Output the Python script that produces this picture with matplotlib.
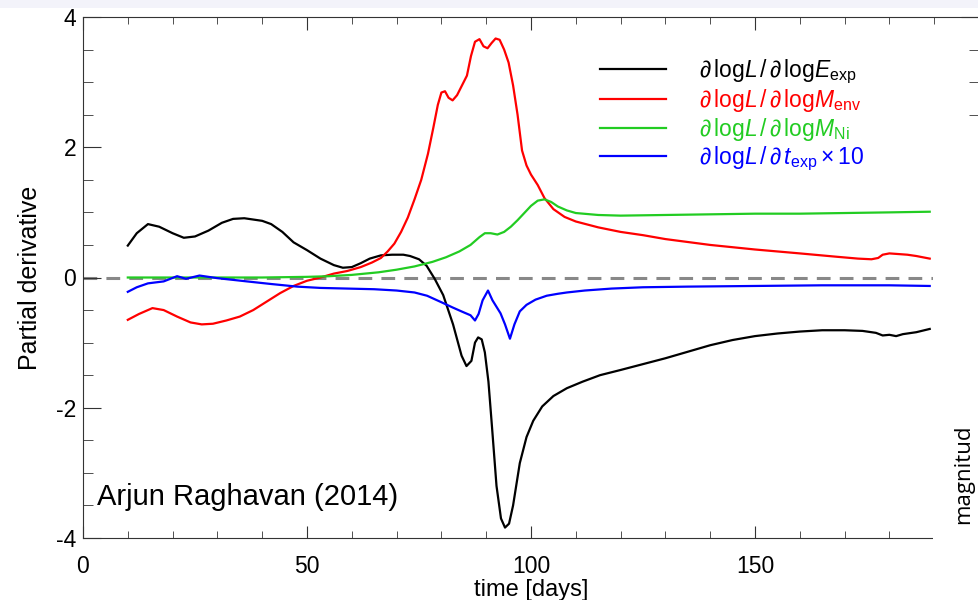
import matplotlib.pyplot as plt
from matplotlib.patches import Rectangle
from matplotlib.ticker import MultipleLocator, FixedLocator

plt.rcParams['font.family'] = ['Liberation Sans', 'DejaVu Sans']
plt.rcParams['mathtext.fontset'] = 'custom'
plt.rcParams['mathtext.rm'] = 'Liberation Sans'
plt.rcParams['mathtext.it'] = 'Liberation Sans:italic'
plt.rcParams['mathtext.fallback'] = 'cm'
plt.rcParams['axes.unicode_minus'] = False

# dlogL/dlogE_exp
t_black = [10, 12, 14.5, 17, 20, 22.5, 25, 28, 31, 33.5, 36, 38, 40, 42, 44.5, 47, 50, 53,
           56, 58, 60, 62, 64, 66.5, 69, 71.5, 73, 75, 76.7, 78.5, 80.4, 82.6, 84.5, 85.6,
           86.7, 87.5, 88.2, 89, 89.7, 90.5, 91.3, 92.3, 93.3, 94.2, 95.1, 96, 97.5, 99,
           100.5, 102.5, 105, 108, 111.5, 115.4, 120, 125, 130, 135, 140, 145, 150, 155,
           160, 165, 170, 174, 177, 178.5, 180, 181.5, 183, 186, 189]
y_black = [0.49, 0.68, 0.82, 0.78, 0.68, 0.61, 0.63, 0.72, 0.84, 0.9, 0.91, 0.89, 0.87, 0.82,
           0.7, 0.54, 0.42, 0.29, 0.19, 0.15, 0.16, 0.22, 0.29, 0.34, 0.35, 0.35, 0.33, 0.28,
           0.18, -0.02, -0.27, -0.72, -1.2, -1.36, -1.28, -1.0, -0.92, -0.95, -1.15, -1.6,
           -2.3, -3.2, -3.7, -3.84, -3.78, -3.5, -2.85, -2.45, -2.2, -1.98, -1.82, -1.7,
           -1.6, -1.5, -1.42, -1.33, -1.24, -1.14, -1.04, -0.96, -0.9, -0.86, -0.83, -0.81,
           -0.81, -0.82, -0.85, -0.89, -0.88, -0.9, -0.87, -0.84, -0.79]

# dlogL/dlogM_env
t_red = [10, 12.5, 15.5, 18, 21, 24, 26.5, 29, 32, 35, 38, 41, 44, 47, 50, 53, 56, 59, 62,
         64.5, 66.5, 68, 69.5, 71, 72.5, 74, 75.5, 77, 78.2, 79.2, 80, 80.8, 81.6, 82.5,
         83.5, 84.6, 85.7, 86.6, 87.5, 88.5, 89.4, 90.3, 91.2, 92.1, 93, 94, 95, 96, 97,
         98, 99, 100, 101.5, 103, 105, 107.5, 110, 115, 120, 125, 130, 140, 150, 160, 168,
         173, 176, 177.5, 178.5, 180, 182, 184, 186, 189]
y_red = [-0.65, -0.56, -0.47, -0.5, -0.6, -0.69, -0.72, -0.71, -0.66, -0.6, -0.5, -0.37,
         -0.24, -0.13, -0.05, 0.0, 0.06, 0.1, 0.16, 0.23, 0.3, 0.4, 0.52, 0.7, 0.92, 1.2,
         1.5, 1.9, 2.3, 2.65, 2.84, 2.86, 2.76, 2.72, 2.8, 2.95, 3.1, 3.4, 3.62, 3.66, 3.55,
         3.52, 3.6, 3.67, 3.65, 3.5, 3.3, 2.95, 2.5, 1.95, 1.72, 1.58, 1.42, 1.22, 1.05,
         0.93, 0.86, 0.77, 0.7, 0.65, 0.59, 0.5, 0.43, 0.37, 0.32, 0.29, 0.28, 0.3, 0.35,
         0.37, 0.36, 0.35, 0.33, 0.29]

# dlogL/dlogM_Ni
t_green = [10, 20, 30, 40, 50, 55, 60, 66, 70, 74, 78, 81, 84, 86.5, 88.5, 89.7, 91, 92.5,
           94, 95.5, 97, 98.5, 100, 101.5, 103, 104.5, 106, 108, 110, 115, 120, 130, 140,
           150, 160, 170, 180, 189]
y_green = [0, 0, 0, 0, 0.01, 0.02, 0.04, 0.08, 0.12, 0.17, 0.24, 0.31, 0.4, 0.5, 0.62, 0.68,
           0.68, 0.66, 0.7, 0.78, 0.88, 0.99, 1.1, 1.18, 1.2, 1.16, 1.09, 1.03, 0.99, 0.96,
           0.95, 0.96, 0.97, 0.98, 0.98, 0.99, 1.0, 1.01]

# dlogL/dt_exp x 10
t_blue = [10, 12, 14.5, 18, 21, 23, 26, 30, 36.6, 42, 47.8, 53, 59, 65, 70, 74, 76.8, 80,
          82.5, 84.8, 86.5, 87.5, 88.3, 89.2, 90.4, 91.4, 92.3, 93.2, 94.2, 95.3, 96.3,
          97.5, 99, 101, 103.5, 106, 108, 112, 118, 125, 135, 150, 165, 180, 189]
y_blue = [-0.22, -0.15, -0.09, -0.06, 0.02, -0.02, 0.03, -0.01, -0.06, -0.1, -0.14, -0.16,
          -0.17, -0.18, -0.2, -0.23, -0.28, -0.38, -0.46, -0.53, -0.58, -0.66, -0.56, -0.35,
          -0.2, -0.35, -0.45, -0.55, -0.72, -0.94, -0.72, -0.52, -0.42, -0.34, -0.28,
          -0.25, -0.23, -0.2, -0.17, -0.15, -0.14, -0.13, -0.12, -0.12, -0.13]

labels = [r'$\partial\,\log\!L\,/\,\partial\,\log\!E_{\rm exp}$',
          r'$\partial\,\log\!L\,/\,\partial\,\log\!M_{\rm env}$',
          r'$\partial\,\log\!L\,/\,\partial\,\log\!M_{\rm Ni}$',
          r'$\partial\,\log\!L\,/\,\partial\,t_{\rm exp}\times10$']

fig = plt.figure(figsize=(9.79, 6), dpi=100)
ax = fig.add_axes([83 / 979, 62 / 600, 896 / 979, 521 / 600])

ax.axhline(0, color='#888888', lw=2.2, ls=(0, (4.5, 3)), zorder=1)
ax.plot(t_black, y_black, color='black', lw=1.6, label=labels[0])
ax.plot(t_red, y_red, color='#ff0000', lw=1.6, label=labels[1])
ax.plot(t_green, y_green, color='#22cc22', lw=1.6, label=labels[2])
ax.plot(t_blue, y_blue, color='#0000ff', lw=1.6, label=labels[3])

ax.set_xlim(0, 200)
ax.set_ylim(-4, 4)
ax.xaxis.set_major_locator(FixedLocator([0, 50, 100, 150]))
ax.xaxis.set_minor_locator(MultipleLocator(10))
ax.yaxis.set_major_locator(MultipleLocator(2))
ax.yaxis.set_minor_locator(MultipleLocator(0.5))
ax.tick_params(which='both', direction='in', top=True, right=True, labelsize=16.5,
               color='#333333')
ax.tick_params(axis='y', which='major', length=13, pad=5)
ax.tick_params(axis='y', which='minor', length=7)
ax.tick_params(axis='x', which='major', length=9, pad=12)
ax.tick_params(axis='x', which='minor', length=5)
for s in ax.spines.values():
    s.set_color('#333333')

ax.set_xlabel('time [days]', fontsize=17, labelpad=1)
ax.set_ylabel('Partial derivative', fontsize=18, labelpad=10)

leg = ax.legend(loc='upper left', bbox_to_anchor=(589 / 979, 1 - 46 / 600),
                bbox_transform=fig.transFigure, frameon=False, fontsize=16.5,
                handlelength=2.85, handletextpad=1.45, labelspacing=0.07,
                borderpad=0, labelcolor='linecolor')

ax.text(97 / 979, 1 - 497 / 600, 'Arjun Raghavan (2014)', transform=fig.transFigure,
        fontsize=21, va='center', ha='left')

# slide overlay on the right edge
fig.add_artist(Rectangle((933 / 979, 0), 46 / 979, 472 / 600, transform=fig.transFigure,
                         facecolor='white', edgecolor='none', zorder=10))
fig.text(964 / 979, 1 - 474 / 600, 'magnitud', rotation=90, fontsize=16,
         family='Open Sans', ha='center', va='center', zorder=11)
fig.add_artist(Rectangle((0, 1 - 8 / 600), 1, 8 / 600, transform=fig.transFigure,
                         facecolor='#f3f3fa', edgecolor='none', zorder=10))

fig.savefig('out.png', dpi=100)
